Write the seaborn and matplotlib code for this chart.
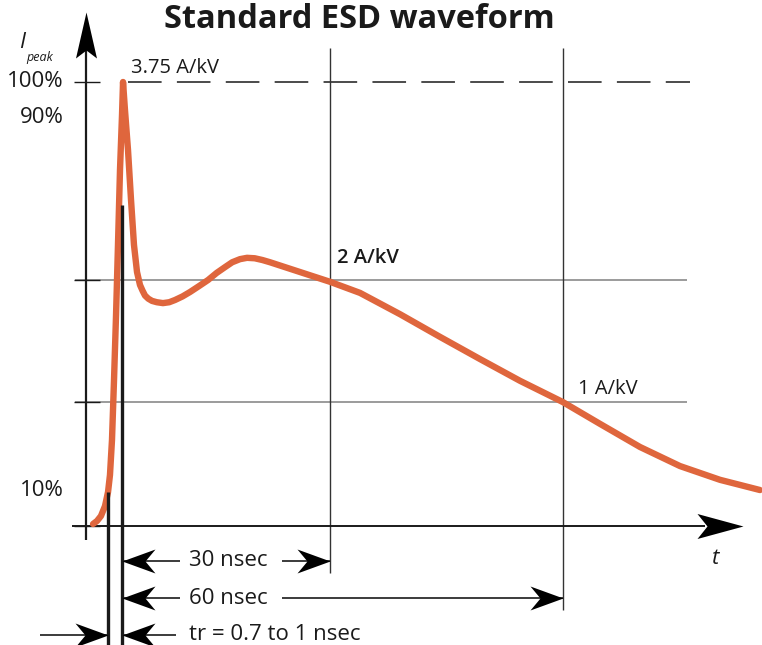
import numpy as np
import pandas as pd
import matplotlib
matplotlib.use("Agg")
import matplotlib.pyplot as plt
from matplotlib.path import Path
import seaborn as sns

# ---------------- data ----------------
# time in ns (0 = start of waveform), current in % of I_peak
t_ns = [-0.51, 0.00, 0.51, 1.03, 1.42, 1.67, 1.93, 2.19, 2.45, 2.70, 2.96, 3.22,
        3.35, 3.60, 3.99, 4.38, 4.76, 5.15, 5.53, 5.86, 6.18, 6.60, 7.08, 7.70,
        8.49, 9.30, 10.04, 11.00, 11.97, 13.10, 14.29, 15.40, 16.47, 17.40,
        18.40, 19.31, 20.30, 21.30, 22.27, 24.20, 26.13, 29.99, 33.85, 39.00,
        44.14, 49.29, 54.44, 59.97, 64.74, 69.88, 75.03, 80.18, 85.33]
i_pct = [0.45, 1.13, 2.25, 4.50, 7.66, 11.5, 19.4, 32.9, 47.5, 63.3, 80.2, 92.6,
         100.0, 93.7, 84.7, 73.4, 63.3, 57.2, 54.3, 53.0, 51.9, 51.2, 50.7, 50.4,
         50.2, 50.4, 50.9, 51.7, 52.7, 54.0, 55.4, 57.0, 58.3, 59.4,
         60.1, 60.4, 60.3, 59.9, 59.4, 58.3, 57.2, 55.0, 52.5, 47.7,
         42.6, 37.6, 32.7, 27.9, 23.0, 17.8, 13.5, 10.4, 8.1]

level_pct = [100.0, 55.4, 27.9]            # 3.75, 2 and 1 A/kV levels
level_labels = ["3.75 A/kV", "2 A/kV", "1 A/kV"]
mark_ns = [30, 60]                          # 30 ns and 60 ns markers
mark_labels = ["30 nsec", "60 nsec"]
tr_ns = [1.42, 3.22]                        # rise-time window
tr_label = "tr = 0.7 to 1 nsec"
ytick_pos = [100.0, 91.9, 8.1]
ytick_labels = ["100%", "90%", "10%"]

# ---------------- figure ----------------
sns.set_theme(style="white")
plt.rcParams["font.family"] = ["Open Sans", "DejaVu Sans"]

W, H = 762, 645
fig = plt.figure(figsize=(W / 100, H / 100), dpi=100)
ax = fig.add_axes([0, 0, 1, 1])
PXT, X0 = 7.77, 97.0      # px per ns, px of t=0
PXP, Y0 = 4.44, 526.0     # px per %, px of 0 %
ax.set_xlim((0 - X0) / PXT, (W - X0) / PXT)
ax.set_ylim((Y0 - H) / PXP, Y0 / PXP)
ax.axis("off")

def tx(px):  # layout helper: pixel column -> time
    return (px - X0) / PXT

def py(px):  # layout helper: pixel row -> percent
    return (Y0 - px) / PXP

def head(x, y, ang, L, Wd, N, color="black", z=6):
    v = np.array([(0, 0), (-L, Wd), (-L + N, 0), (-L, -Wd), (0, 0)], float)
    a = np.deg2rad(ang)
    R = np.array([[np.cos(a), -np.sin(a)], [np.sin(a), np.cos(a)]])
    v = v @ R.T
    p = Path(v, [Path.MOVETO, Path.LINETO, Path.LINETO, Path.LINETO, Path.CLOSEPOLY])
    ax.plot([x], [y], marker=p, markersize=2 * L * 0.72, color=color,
            mec=color, mew=0, ls="none", zorder=z)

ink = "#1a1a1a"
gray = "#8a8a8a"

# reference levels
ax.hlines(level_pct[0], tx(128), tx(690), color=ink, lw=1.1,
          linestyles=(0, (22, 10)), zorder=2)
ax.hlines(level_pct[1:], tx(75), tx(687), color=gray, lw=1.2, zorder=2)
# small tick crosses on y axis
ax.hlines(level_pct + [0], tx(74), tx(100), color=ink, lw=1.0, zorder=3)

# vertical markers
ax.vlines(mark_ns[0], py(573), py(48), color="#333333", lw=1.0, zorder=2)
ax.vlines(mark_ns[1], py(610), py(48), color="#333333", lw=1.0, zorder=2)

# axes
ax.vlines(tx(86), py(540), py(40), color=ink, lw=1.6, zorder=4)
head(tx(86), py(12), 90, 46, 10.5, 8)
ax.hlines(0, tx(72), tx(705), color=ink, lw=1.4, zorder=4)
head(tx(743), 0, 0, 46, 12.5, 10)

# waveform
sns.lineplot(x=t_ns, y=i_pct, ax=ax, color="#DF663D", lw=4.6, sort=False,
             estimator=None, zorder=5)

# rise-time lines
ax.vlines(tr_ns[0], py(645), py(492), color=ink, lw=2.4, zorder=6)
ax.vlines(tr_ns[1], py(645), py(205), color=ink, lw=2.4, zorder=6)

# dimension arrows
fs = 14.5
fsb = 16
y30, y60, ytr = py(561), py(598), py(635)
for yy, mt, lab in [(y30, mark_ns[0], mark_labels[0]), (y60, mark_ns[1], mark_labels[1])]:
    ax.hlines(yy, tr_ns[1], tx(180), color=ink, lw=1.2, zorder=5)
    head(tr_ns[1], yy, 180, 33, 12, 10)
    ax.hlines(yy, tx(282), mt, color=ink, lw=1.2, zorder=5)
    head(mt, yy, 0, 33, 12, 10)
    ax.text(tx(189), yy, lab, fontsize=fsb, va="center", ha="left", color=ink)

ax.hlines(ytr, tx(40), tr_ns[0], color=ink, lw=1.2, zorder=5)
head(tr_ns[0], ytr, 0, 33, 12, 10)
ax.hlines(ytr, tr_ns[1], tx(176), color=ink, lw=1.2, zorder=5)
head(tr_ns[1], ytr, 180, 33, 12, 10)
ax.text(tx(189), ytr, tr_label, fontsize=fsb, va="center", ha="left", color=ink)

# level labels
ax.text(tx(131), py(68), level_labels[0], fontsize=fs, va="center", ha="left", color=ink)
ax.text(tx(337), py(258), level_labels[1], fontsize=fs, va="center", ha="left",
        color=ink, fontweight="semibold")
ax.text(tx(578), py(389), level_labels[2], fontsize=fs, va="center", ha="left", color=ink)

# y labels
for pos, lab in zip(ytick_pos, ytick_labels):
    ax.text(tx(64), pos, lab, fontsize=fsb, va="center", ha="right", color=ink)
ax.text(tx(19), py(42), "I", fontsize=16, style="italic", va="center", ha="left", color=ink)
ax.text(tx(26), py(58), "peak", fontsize=9, style="italic", va="center", ha="left", color=ink)
ax.text(tx(716), py(559), "t", fontsize=16, style="italic", va="center", ha="center", color=ink)

# title
ax.text(tx(359), py(20), "Standard ESD waveform", fontsize=23.5, fontweight="bold",
        va="center", ha="center", color=ink)

fig.savefig("out.png", dpi=100, facecolor="white")
